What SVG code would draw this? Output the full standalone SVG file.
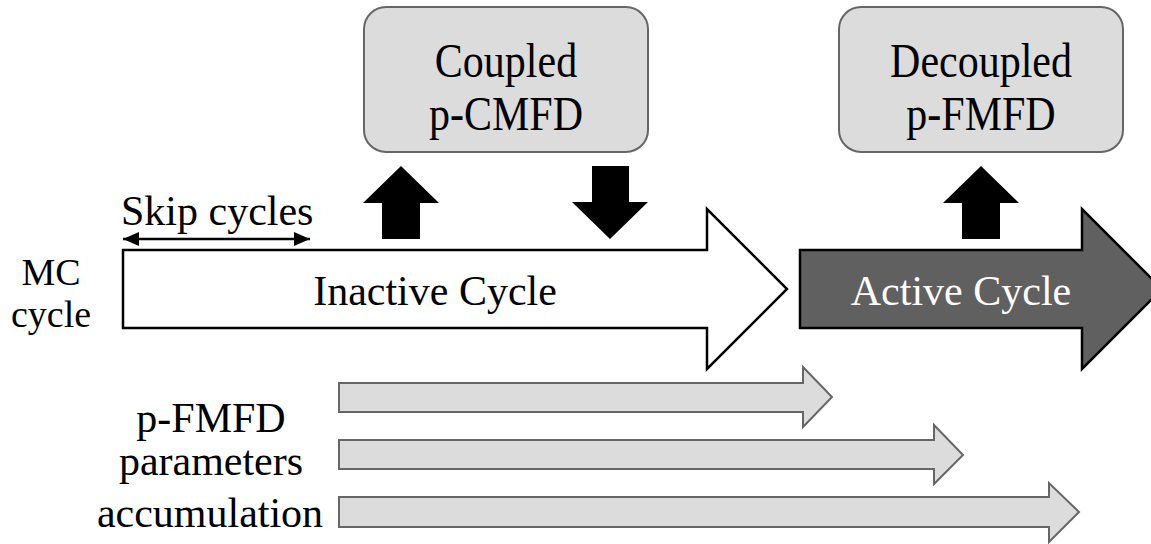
<svg xmlns="http://www.w3.org/2000/svg" width="1151" height="544" viewBox="0 0 1151 544">
<style>
.t{font-family:'Liberation Serif','Times New Roman',Times,serif;font-size:42px;fill:#000}
.mc{font-size:38px}
.box{fill:#dcdcdc;stroke:#666;stroke-width:2}
.blk{fill:#000;stroke:none}
.acc{fill:#dcdcdc;stroke:#666;stroke-width:2}
</style>
<defs>
<marker id="ah" markerWidth="16" markerHeight="14" refX="16" refY="7" orient="auto-start-reverse" markerUnits="userSpaceOnUse">
<path d="M0,0 L16,7 L0,14 Z" fill="#000"/>
</marker>
</defs>
<rect width="1151" height="544" fill="#fff"/>
<g id="mc-label">
<text class="t mc" x="51" y="285" text-anchor="middle">MC</text>
<text class="t mc" x="51" y="327" text-anchor="middle">cycle</text>
</g>
<g id="inactive">
<path d="M123,250 L707,250 L707,209 L787,289 L707,369 L707,328 L123,328 Z" fill="#fff" stroke="#000" stroke-width="2.5"/>
<text class="t" x="435" y="305" text-anchor="middle">Inactive Cycle</text>
</g>
<g id="active">
<path d="M800,250 L1082,250 L1082,209 L1162,289 L1082,369 L1082,328 L800,328 Z" fill="#606060" stroke="#000" stroke-width="2.5"/>
<text class="t" x="961" y="305" text-anchor="middle" style="fill:#fff">Active Cycle</text>
</g>
<g id="coupled">
<rect class="box" x="364" y="7" width="284" height="145" rx="22"/>
<g transform="translate(506,77) scale(1,1.15)">
<text class="t" x="0" y="0" text-anchor="middle">Coupled</text>
<text class="t" x="0" y="46" text-anchor="middle">p-CMFD</text>
</g>
</g>
<g id="decoupled">
<rect class="box" x="839" y="7" width="284" height="145" rx="22"/>
<g transform="translate(981,77) scale(1,1.15)">
<text class="t" x="0" y="0" text-anchor="middle">Decoupled</text>
<text class="t" x="0" y="46" text-anchor="middle">p-FMFD</text>
</g>
</g>
<g id="skip">
<text class="t" x="121" y="225">Skip cycles</text>
</g>
<g id="accum-label">
<text class="t" x="211" y="432" text-anchor="middle">p-FMFD</text>
<text class="t" x="211" y="475" text-anchor="middle">parameters</text>
<text class="t" x="210" y="527" text-anchor="middle">accumulation</text>
</g>
<g id="connectors">
<line x1="123" y1="239" x2="310" y2="239" stroke="#000" stroke-width="2.5" marker-start="url(#ah)" marker-end="url(#ah)"/>
<path class="blk" d="M401,166 L439,203 L420,203 L420,239 L382,239 L382,203 L363,203 Z"/>
<path class="blk" d="M592,166 L629,166 L629,202 L648,202 L610,239 L572,202 L592,202 Z"/>
<path class="blk" d="M981,166 L1019,203 L1000,203 L1000,239 L962,239 L962,203 L943,203 Z"/>
<path class="acc" d="M339,383 L803,383 L803,367 L832,397 L803,427 L803,412 L339,412 Z"/>
<path class="acc" d="M339,440 L934,440 L934,425 L963,455 L934,484 L934,469 L339,469 Z"/>
<path class="acc" d="M339,497 L1049,497 L1049,483 L1079,512 L1049,542 L1049,527 L339,527 Z"/>
</g>
</svg>
